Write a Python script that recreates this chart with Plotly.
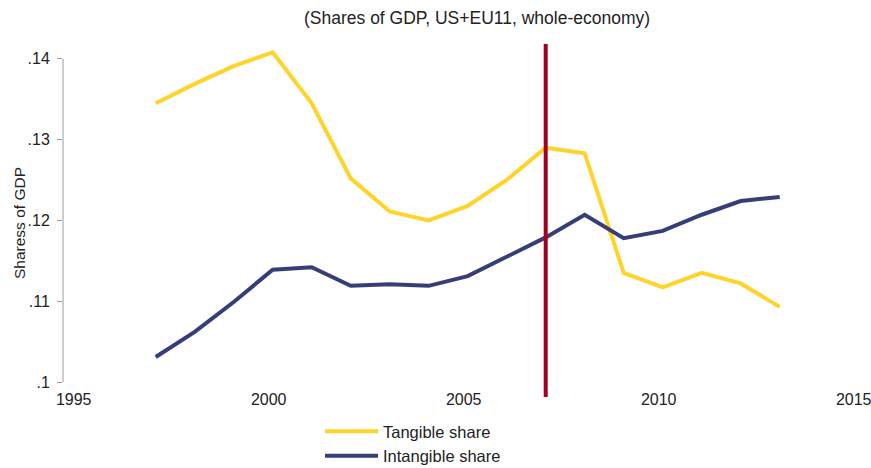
import plotly.graph_objects as go

years = list(range(1997, 2014))
tangible = [0.1345, 0.1369, 0.1391, 0.1408, 0.1345, 0.1252, 0.1211, 0.1200, 0.1218,
            0.1250, 0.1290, 0.1283, 0.1135, 0.1117, 0.1135, 0.1122, 0.1093]
intangible = [0.1031, 0.1062, 0.1099, 0.1139, 0.1142, 0.1119, 0.1121, 0.1119, 0.1131,
              0.1155, 0.1179, 0.1207, 0.1178, 0.1187, 0.1207, 0.1224, 0.1229]
event_year = 2007
y_ticks = [0.10, 0.11, 0.12, 0.13, 0.14]
y_ticktext = [".1", ".11", ".12", ".13", ".14"]
x_ticks = [1995, 2000, 2005, 2010, 2015]

FONT = "Liberation Sans, Arial, Helvetica, sans-serif"
YELLOW = "#FFD42A"
NAVY = "#363E78"
RED = "#A2001F"

fig = go.Figure()
fig.add_trace(go.Scatter(x=years, y=tangible, mode="lines", name="Tangible share",
                         line=dict(color=YELLOW, width=4)))
fig.add_trace(go.Scatter(x=years, y=intangible, mode="lines", name="Intangible share",
                         line=dict(color=NAVY, width=4)))

# body margin is removed in the page, so figure pixels == window pixels
W, H = 871, 468
ml = 63
mt = 39
plot_bottom = 388
mb = H - plot_bottom
mr = 10
plot_w = W - ml - mr
plot_h = H - mt - mb
px_per_unit = 8080.0
y_top = 0.1 + (382 - mt) / px_per_unit
y_bot = y_top - plot_h / px_per_unit
px_per_year = 39.0
x_left = 1995 - (77.7 - ml) / px_per_year
x_right = x_left + plot_w / px_per_year


def px_to_paper_x(px):
    return (px - ml) / plot_w


def px_to_paper_y(py):
    return (plot_bottom - py) / plot_h


# vertical event line
fig.add_shape(type="line", xref="x", yref="paper", x0=event_year, x1=event_year,
              y0=px_to_paper_y(397), y1=px_to_paper_y(44),
              line=dict(color=RED, width=4), layer="above")
# y axis line from .1 to .14
fig.add_shape(type="line", xref="paper", yref="y", x0=0, x1=0,
              y0=y_ticks[0], y1=y_ticks[-1], line=dict(color="#9a9a9a", width=1))

fig.add_annotation(text="(Shares of GDP, US+EU11, whole-economy)", xref="paper", yref="paper",
                   x=px_to_paper_x(476.5), y=px_to_paper_y(18),
                   showarrow=False, font=dict(size=17.5, color="#222", family=FONT),
                   xanchor="center", yanchor="middle")
fig.add_annotation(text="Sharess of GDP", xref="paper", yref="paper",
                   x=px_to_paper_x(19), y=px_to_paper_y(223), textangle=-90,
                   showarrow=False, font=dict(size=15.5, color="#222", family=FONT),
                   xanchor="center", yanchor="middle")

fig.update_layout(
    width=W, height=H,
    margin=dict(l=ml, r=mr, t=mt, b=mb, autoexpand=False),
    paper_bgcolor="white", plot_bgcolor="white",
    font=dict(family=FONT, size=16, color="#222"),
    showlegend=True,
    legend=dict(x=px_to_paper_x(320), y=px_to_paper_y(414), xanchor="left", yanchor="top",
                orientation="v", font=dict(size=16.5, family=FONT, color="#222"),
                itemwidth=53, tracegroupgap=0, bgcolor="rgba(0,0,0,0)"),
    xaxis=dict(range=[x_left, x_right], tickvals=x_ticks, showgrid=False, zeroline=False,
               showline=False, ticks="", tickfont=dict(size=16, color="#222"), automargin=False,
               ticklabeloverflow="allow", ticklabelshift=-4),
    yaxis=dict(range=[y_bot, y_top], tickvals=y_ticks, ticktext=y_ticktext, showgrid=False,
               zeroline=False, showline=False, ticks="outside", ticklen=5, tickcolor="#9a9a9a",
               tickwidth=1, tickfont=dict(size=16, color="#222"), ticklabelstandoff=4,
               automargin=False),
)

fig.write_html("out.html", config={"displayModeBar": False},
               post_script="document.body.style.margin='0';document.body.style.overflow='hidden';")
